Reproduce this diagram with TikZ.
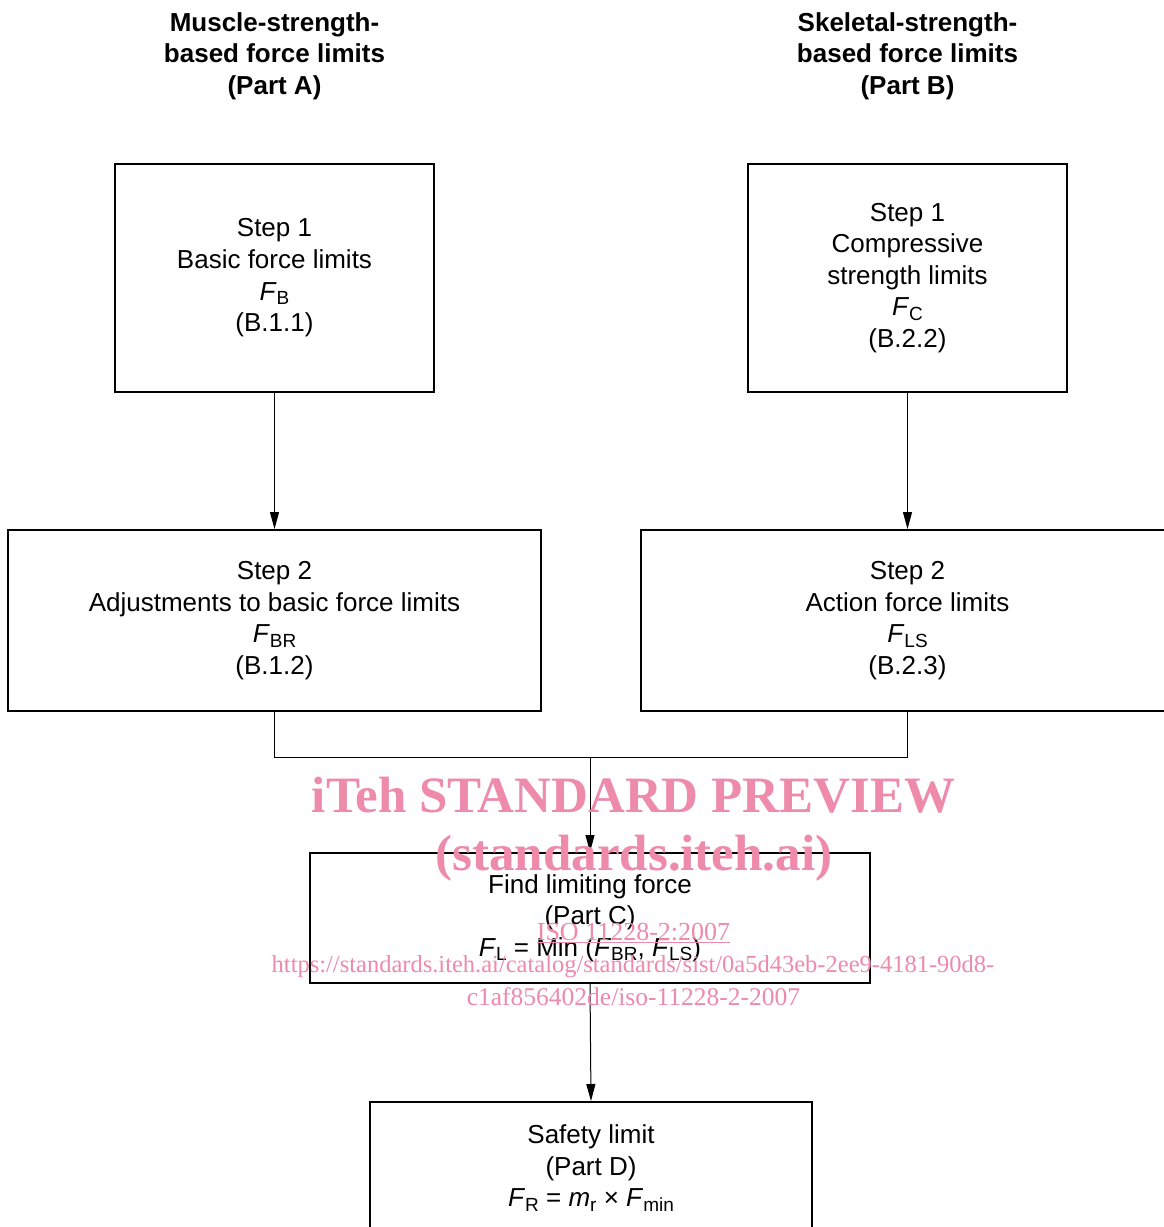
\documentclass[tikz,border=0pt]{standalone}
\usepackage{fontspec}
\setmainfont{Liberation Sans}
\newfontfamily\wmfont{Liberation Serif}
\usetikzlibrary{arrows.meta}
\definecolor{wm}{RGB}{238,138,170}
\newcommand\lsub[1]{\raisebox{-0.32ex}{\fontsize{19}{19}\selectfont #1}}
\begin{document}
\begin{tikzpicture}[x=1pt,y=-1pt,
  box/.style={draw,line width=2pt,inner sep=0pt,align=center,font=\fontsize{26}{31.6}\selectfont},
  head/.style={align=center,font=\bfseries\fontsize{26}{31.6}\selectfont},
  conn/.style={line width=1pt},
  arr/.style={conn,-{Triangle[length=17pt,width=9pt]}},
  wmbig/.style={text=wm,font=\wmfont\bfseries\fontsize{51}{51}\selectfont,anchor=base,inner sep=0pt},
  wmsmall/.style={text=wm,font=\wmfont\fontsize{26}{26}\selectfont,anchor=base,inner sep=0pt}]
\useasboundingbox (0,0) rectangle (1164,1227);
\fill[white] (0,0) rectangle (1164,1227);
% headings
\node[head] (hA) at (274.5,56) {Muscle-strength-\\based force limits\\(Part A)};
\node[head] (hB) at (907.5,56) {Skeletal-strength-\\based force limits\\(Part B)};
% boxes
\node[box,minimum width=319pt,minimum height=228pt] (A1) at (274.5,278) {Step 1\\Basic force limits\\\textit{F}\lsub{B}\\(B.1.1)};
\node[box,minimum width=319pt,minimum height=228pt] (B1) at (907.5,278) {Step 1\\Compressive\\strength limits\\\textit{F}\lsub{C}\\(B.2.2)};
\node[box,minimum width=533pt,minimum height=181pt] (A2) at (274.5,620.5) {Step 2\\Adjustments to basic force limits\\\textit{F}\lsub{BR}\\(B.1.2)};
\node[box,minimum width=533pt,minimum height=181pt] (B2) at (907.5,620.5) {Step 2\\Action force limits\\\textit{F}\lsub{LS}\\(B.2.3)};
\node[box,minimum width=560pt,minimum height=130pt] (C) at (590,918) {Find limiting force\\(Part C)\\\textit{F}\lsub{L} = Min (\textit{F}\lsub{BR}, \textit{F}\lsub{LS})};
\node[box,minimum width=442pt,minimum height=132pt] (D) at (591,1168) {Safety limit\\(Part D)\\\textit{F}\lsub{R} = \textit{m}\lsub{r} × \textit{F}\lsub{min}};
% connectors
\draw[arr] (A1.south) -- (A2.north);
\draw[arr] (B1.south) -- (B2.north);
\coordinate (j) at (590,757);
\draw[conn] (A2.south) |- (j) -| (B2.south);
\draw[arr] (j) -- (C.north);
\draw[arr] (C.south) -- (D.north);
% watermark
\node[wmbig] (w1) at (633.5,812) {iTeh STANDARD PREVIEW};
\node[wmbig] (w2) at (634,870) {(standards.iteh.ai)};
\node[wmsmall] (w3) at (633.5,940) {\underline{ISO 11228-2:2007}};
\node[wmsmall,font=\wmfont\fontsize{24.5}{24.5}\selectfont] (w4) at (633,972) {https://standards.iteh.ai/catalog/standards/sist/0a5d43eb-2ee9-4181-90d8-};
\node[wmsmall,font=\wmfont\fontsize{25.5}{25.5}\selectfont] (w5) at (633.5,1005) {c1af856402de/iso-11228-2-2007};
\end{tikzpicture}
\end{document}
